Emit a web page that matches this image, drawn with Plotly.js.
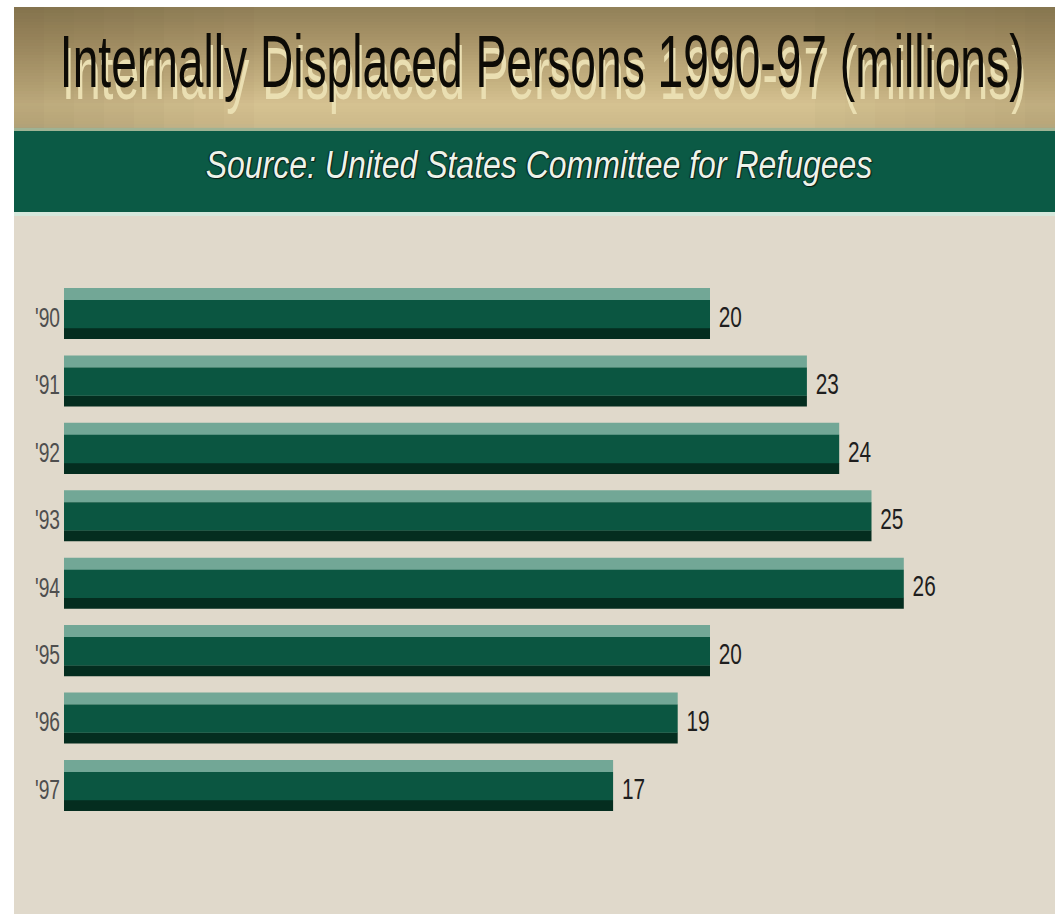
<!DOCTYPE html>
<html>
<head>
<meta charset="utf-8">
<script src="https://cdn.plot.ly/plotly-3.0.1.min.js"></script>
<style>
  html, body { margin: 0; padding: 0; background: #ffffff; }
  #chart { width: 1057px; height: 914px; }
</style>
</head>
<body>
<div id="chart"></div>
<script>
// ---- data ----
const years = ["'90", "'91", "'92", "'93", "'94", "'95", "'96", "'97"];
const displacedMillions = [20, 23, 24, 25, 26, 20, 19, 17];
const titleText = "Internally Displaced Persons 1990-97 (millions)";
const subtitleText = "Source: United States Committee for Refugees";

// ---- geometry helpers (figure pixels -> paper coords, margins are 0) ----
const W = 1057, H = 914;
const px = v => v / W;
const py = v => 1 - v / H;

const FONT = "'Liberation Sans', Arial, sans-serif";

// ---- background shapes ----
const shapes = [];
shapes.push({type: 'rect', xref: 'paper', yref: 'paper', layer: 'below',
  x0: px(14), x1: px(1055), y0: py(914), y1: py(213),
  fillcolor: '#e0d9cb', line: {width: 0}});

const goldStops = [
  [7, [145, 128, 88]], [40, [168, 148, 104]], [80, [196, 176, 128]],
  [105, [213, 194, 145]], [124, [205, 186, 139]], [130, [192, 185, 146]]
];
function goldAt(y) {
  for (let i = 0; i < goldStops.length - 1; i++) {
    const [ya, ca] = goldStops[i], [yb, cb] = goldStops[i + 1];
    if (y >= ya && y <= yb) {
      const t = (y - ya) / (yb - ya);
      return ca.map((c, k) => Math.round(c + (cb[k] - c) * t));
    }
  }
  return goldStops[goldStops.length - 1][1];
}
for (let y = 7; y < 130; y += 3) {
  const c = goldAt(y + 1.5);
  shapes.push({type: 'rect', xref: 'paper', yref: 'paper', layer: 'below',
    x0: px(14), x1: px(1055), y0: py(Math.min(y + 3, 130)), y1: py(y),
    fillcolor: `rgb(${c[0]},${c[1]},${c[2]})`, line: {width: 0}});
}
for (let i = 0; i < 8; i++) {
  const a = 0.18 * (1 - i / 8);
  shapes.push({type: 'rect', xref: 'paper', yref: 'paper', layer: 'below',
    x0: px(14 + i * 30), x1: px(14 + (i + 1) * 30), y0: py(130), y1: py(7),
    fillcolor: `rgba(70,55,25,${a.toFixed(3)})`, line: {width: 0}});
  shapes.push({type: 'rect', xref: 'paper', yref: 'paper', layer: 'below',
    x0: px(1055 - (i + 1) * 30), x1: px(1055 - i * 30), y0: py(130), y1: py(7),
    fillcolor: `rgba(70,55,25,${(a * 0.8).toFixed(3)})`, line: {width: 0}});
}
shapes.push({type: 'rect', xref: 'paper', yref: 'paper', layer: 'below',
  x0: px(14), x1: px(1055), y0: py(213), y1: py(130),
  fillcolor: '#0b5a45', line: {width: 0}});
shapes.push({type: 'rect', xref: 'paper', yref: 'paper', layer: 'below',
  x0: px(14), x1: px(1055), y0: py(131), y1: py(128),
  fillcolor: '#9fb394', line: {width: 0}});
shapes.push({type: 'rect', xref: 'paper', yref: 'paper', layer: 'below',
  x0: px(14), x1: px(1055), y0: py(216), y1: py(212),
  fillcolor: '#d5e8dc', line: {width: 0}});

// ---- bars: three overlaid layers give the bevelled look ----
const common = {
  type: 'bar', orientation: 'h', y: years, x: displacedMillions,
  hoverinfo: 'skip', showlegend: false
};
const traces = [
  Object.assign({}, common, {offset: 0.223, width: 0.163,
    marker: {color: '#042d1f', line: {width: 0}}}),
  Object.assign({}, common, {offset: -0.371, width: 0.182,
    marker: {color: '#72a796', line: {width: 0}}}),
  Object.assign({}, common, {offset: -0.193, width: 0.42,
    marker: {color: '#0b5641', line: {width: 0}},
    texttemplate: '\u00a0%{x}', textposition: 'outside', textangle: 0,
    constraintext: 'none', cliponaxis: false,
    outsidetextfont: {family: FONT, size: 26, color: '#1e1e1e'}})
];

const layout = {
  width: W, height: H,
  margin: {l: 0, r: 0, t: 0, b: 0, pad: 0},
  paper_bgcolor: '#ffffff', plot_bgcolor: 'rgba(0,0,0,0)',
  barmode: 'overlay',
  xaxis: {domain: [px(64), px(1033)], range: [0, 30], visible: false, fixedrange: true},
  yaxis: {domain: [py(818.7), py(279.3)], range: [7.5, -0.5], type: 'category',
    showgrid: false, zeroline: false, showline: false, ticks: '',
    tickfont: {family: FONT, size: 24, color: '#4e4e4e'}, fixedrange: true},
  shapes: shapes,
  annotations: [
    {text: titleText, xref: 'paper', yref: 'paper', x: px(542), y: py(61.5),
     xanchor: 'center', yanchor: 'middle', showarrow: false,
     font: {family: FONT, size: 56, color: '#0d0b06', shadow: '3px 10px 0px #eadfb2'}},
    {text: subtitleText, xref: 'paper', yref: 'paper', x: px(539), y: py(165),
     xanchor: 'center', yanchor: 'middle', showarrow: false,
     font: {family: FONT, size: 38, style: 'italic', color: '#eef3ea',
            shadow: '1px 1px 1px #0a1a12, -1px 0px 1px #0a1a12'}}
  ]
};

// condensed look of the original typeface: scale text glyphs in place
function squish(el, sx, sy, mode, dx, dy) {
  const b = el.getBBox();
  const ax = mode === 'start' ? b.x : mode === 'end' ? b.x + b.width : b.x + b.width / 2;
  const ay = b.y + b.height / 2;
  const prev = el.getAttribute('transform') || '';
  el.setAttribute('transform',
    `${prev} translate(${ax + (dx || 0)} ${ay + (dy || 0)}) scale(${sx} ${sy}) translate(${-ax} ${-ay})`);
}

Plotly.newPlot('chart', traces, layout, {displayModeBar: false, staticPlot: true}).then(gd => {
  const t = gd.querySelector('.annotation[data-index="0"] text');
  if (t) squish(t, 965 / t.getBBox().width, 1.32, 'middle', 0, 0);
  const s = gd.querySelector('.annotation[data-index="1"] text');
  if (s) squish(s, 667 / s.getBBox().width, 1.0, 'middle', 0, 0);
  gd.querySelectorAll('.ytick text').forEach(el => squish(el, 0.8, 1.17, 'end', -3, 4));
  gd.querySelectorAll('text.bartext').forEach(el => squish(el, 0.8, 1.17, 'start', 0, 2));
});
</script>
</body>
</html>
